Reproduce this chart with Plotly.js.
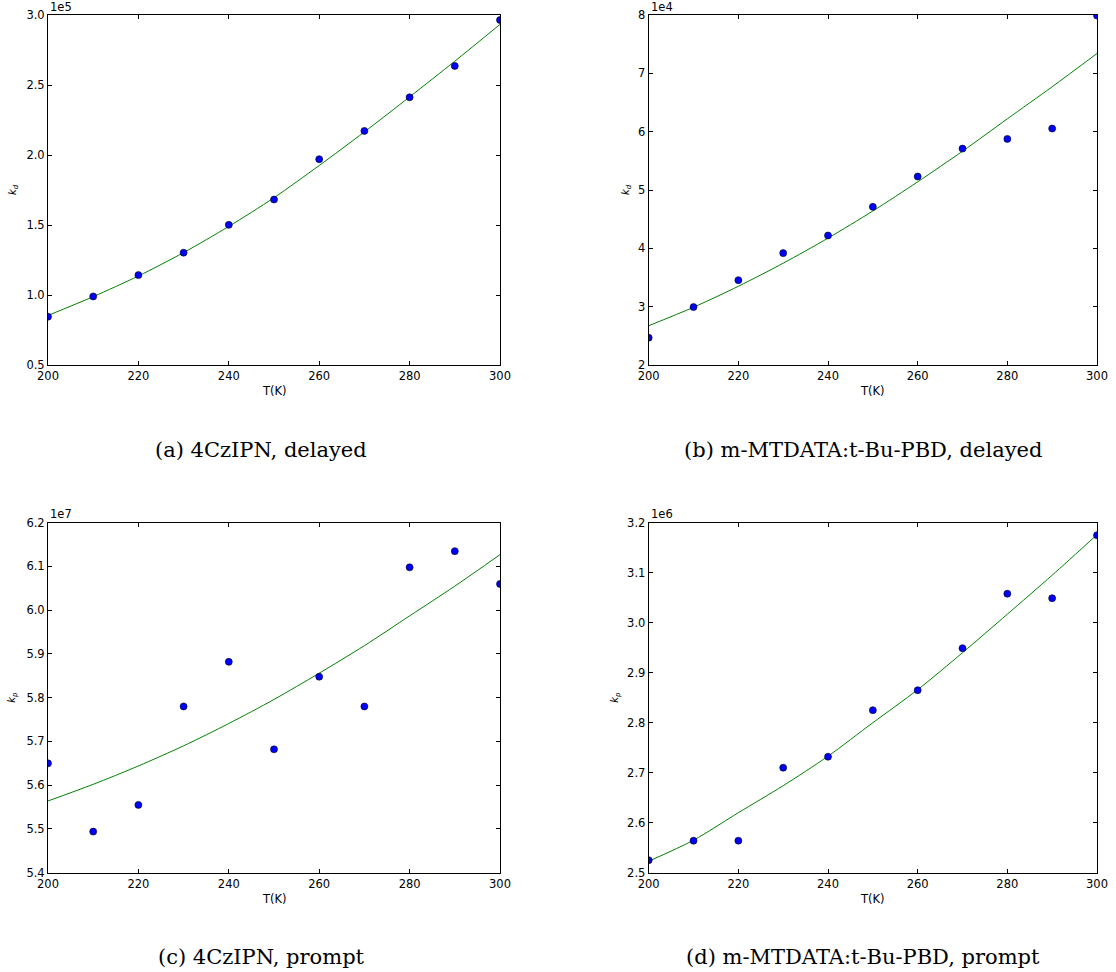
<!DOCTYPE html>
<html>
<head>
<meta charset="utf-8">
<script src="https://cdn.plot.ly/plotly-3.0.1.min.js"></script>
<style>html,body{margin:0;padding:0;background:#fff;}#chart{width:1116px;height:972px;}</style>
</head>
<body>
<div id="chart"></div>
<script>
// Temperatures (K)
const temps = [200, 210, 220, 230, 240, 250, 260, 270, 280, 290, 300];

// (a) 4CzIPN, delayed  (k_d)
const kd_4czipn_data = [84500, 99000, 114200, 130200, 150100, 168200, 197000, 217200, 241200, 263600, 296400];
const kd_4czipn_fit  = [85400, 98800, 113600, 130300, 149000, 169500, 192500, 216500, 241500, 267000, 293300];

// (b) m-MTDATA:t-Bu-PBD, delayed (k_d)
const kd_mtdata_data = [24680, 29930, 34550, 39180, 42200, 47110, 52310, 57100, 58760, 60530, 79900];
const kd_mtdata_fit  = [26730, 29900, 33500, 37450, 41750, 46400, 51400, 56650, 62200, 67700, 73400];

// (c) 4CzIPN, prompt (k_p)
const kp_4czipn_data = [56500000, 54940000, 55550000, 57800000, 58820000, 56820000, 58480000, 57800000, 60980000, 61350000, 60600000];
const kp_4czipn_fit  = [55640000, 56020000, 56440000, 56900000, 57410000, 57960000, 58560000, 59190000, 59870000, 60550000, 61270000];

// (d) m-MTDATA:t-Bu-PBD, prompt (k_p)
const kp_mtdata_data = [2525000, 2564000, 2564000, 2710000, 2732000, 2825000, 2865000, 2949000, 3058000, 3049000, 3175000];
const kp_mtdata_fit  = [2523000, 2565000, 2620000, 2674000, 2733000, 2800000, 2866000, 2940000, 3017000, 3095000, 3176000];

// Tick labels
const xTicks = [200, 220, 240, 260, 280, 300];
const xTickText = ['200', '220', '240', '260', '280', '300'];
const yTicksA = [50000, 100000, 150000, 200000, 250000, 300000];
const yTickTextA = ['0.5', '1.0', '1.5', '2.0', '2.5', '3.0'];
const yTicksB = [20000, 30000, 40000, 50000, 60000, 70000, 80000];
const yTickTextB = ['2', '3', '4', '5', '6', '7', '8'];
const yTicksC = [54000000, 55000000, 56000000, 57000000, 58000000, 59000000, 60000000, 61000000, 62000000];
const yTickTextC = ['5.4', '5.5', '5.6', '5.7', '5.8', '5.9', '6.0', '6.1', '6.2'];
const yTicksD = [2500000, 2600000, 2700000, 2800000, 2900000, 3000000, 3100000, 3200000];
const yTickTextD = ['2.5', '2.6', '2.7', '2.8', '2.9', '3.0', '3.1', '3.2'];

const captions = ['(a) 4CzIPN, delayed', '(b) m-MTDATA:t-Bu-PBD, delayed', '(c) 4CzIPN, prompt', '(d) m-MTDATA:t-Bu-PBD, prompt'];
const offsets = ['1e5', '1e4', '1e7', '1e6'];
const yLabels = ['<i>k</i><sub><i>d</i></sub>', '<i>k</i><sub><i>d</i></sub>', '<i>k</i><sub><i>p</i></sub>', '<i>k</i><sub><i>p</i></sub>'];

const W = 1116, H = 972;
const panels = [
  {data: kd_4czipn_data, fit: kd_4czipn_fit, yt: yTicksA, ytt: yTickTextA, yr: [50000, 300000], px: [48, 500], py: [15, 365], ylx: 13},
  {data: kd_mtdata_data, fit: kd_mtdata_fit, yt: yTicksB, ytt: yTickTextB, yr: [20000, 80000], px: [648.7, 1097], py: [15, 365], ylx: 626},
  {data: kp_4czipn_data, fit: kp_4czipn_fit, yt: yTicksC, ytt: yTickTextC, yr: [54000000, 62000000], px: [48, 500], py: [522.7, 872.7], ylx: 13},
  {data: kp_mtdata_data, fit: kp_mtdata_fit, yt: yTicksD, ytt: yTickTextD, yr: [2500000, 3200000], px: [648.7, 1097], py: [522.7, 872.7], ylx: 616}
];

const font = {family: 'DejaVu Sans', size: 11.5, color: '#000'};
const traces = [];
const layout = {
  width: W, height: H,
  margin: {l: 0, r: 0, t: 0, b: 0},
  paper_bgcolor: '#fff', plot_bgcolor: '#fff',
  showlegend: false,
  font: font,
  annotations: []
};

panels.forEach((p, i) => {
  const n = i + 1;
  const xa = 'x' + (n === 1 ? '' : n), ya = 'y' + (n === 1 ? '' : n);
  const xk = 'xaxis' + (n === 1 ? '' : n), yk = 'yaxis' + (n === 1 ? '' : n);
  traces.push({
    x: temps, y: p.fit, xaxis: xa, yaxis: ya, type: 'scatter', mode: 'lines',
    line: {color: '#008000', width: 1, shape: 'spline', smoothing: 0.8}, hoverinfo: 'skip'
  });
  traces.push({
    x: temps, y: p.data, xaxis: xa, yaxis: ya, type: 'scatter', mode: 'markers',
    marker: {color: '#0000ff', size: 7, line: {color: '#000', width: 0.6}}
  });
  const common = {
    showgrid: false, zeroline: false, showline: true, linecolor: '#000', linewidth: 1,
    mirror: 'allticks', ticks: 'inside', ticklen: 4, tickwidth: 1, tickcolor: '#000',
    tickfont: font, fixedrange: true
  };
  layout[xk] = Object.assign({}, common, {
    domain: [p.px[0] / W, p.px[1] / W], range: [200, 300], anchor: ya,
    tickmode: 'array', tickvals: xTicks, ticktext: xTickText
  });
  layout[yk] = Object.assign({}, common, {
    domain: [1 - p.py[1] / H, 1 - p.py[0] / H], range: p.yr, anchor: xa,
    tickmode: 'array', tickvals: p.yt, ticktext: p.ytt
  });
  const cx = (p.px[0] + p.px[1]) / 2;
  // x title
  layout.annotations.push({xref: 'paper', yref: 'paper', x: cx / W, y: 1 - (p.py[1] + 26) / H,
    text: 'T(K)', showarrow: false, font: font, xanchor: 'center', yanchor: 'middle'});
  // y title
  layout.annotations.push({xref: 'paper', yref: 'paper', x: p.ylx / W, y: 1 - ((p.py[0] + p.py[1]) / 2) / H,
    text: yLabels[i], showarrow: false, textangle: -90, font: {family: 'DejaVu Sans', size: 10, color: '#000'},
    xanchor: 'center', yanchor: 'middle'});
  // offset text
  layout.annotations.push({xref: 'paper', yref: 'paper', x: (p.px[0] + 1) / W, y: 1 - (p.py[0] - 0.5) / H,
    text: offsets[i], showarrow: false, font: font, xanchor: 'left', yanchor: 'bottom', borderpad: 0});
  // caption
  layout.annotations.push({xref: 'paper', yref: 'paper', x: (i % 2 === 0 ? 261 : 863) / W, y: 1 - (i < 2 ? 450 : 957) / H,
    text: captions[i], showarrow: false, font: {family: 'DejaVu Serif', size: 21, color: '#000'},
    xanchor: 'center', yanchor: 'middle'});
});

Plotly.newPlot('chart', traces, layout, {displayModeBar: false, staticPlot: true});
</script>
</body>
</html>
